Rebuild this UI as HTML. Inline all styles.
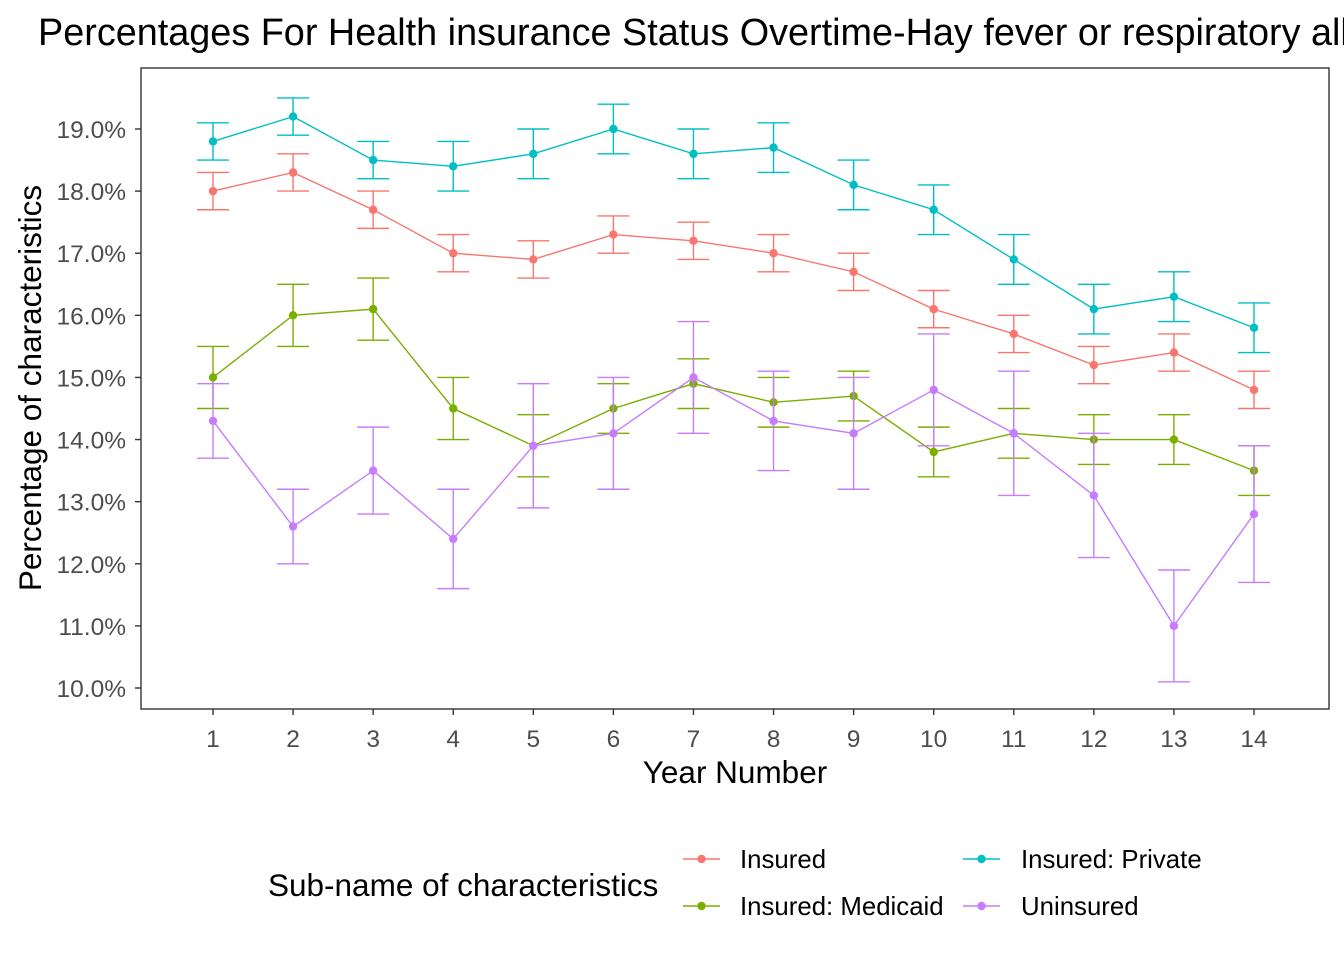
<!DOCTYPE html>
<html><head><meta charset="utf-8"><style>
body{margin:0;background:#fff;}
svg text{font-family:"Liberation Sans",Arial,sans-serif;}
</style></head><body>
<svg width="1344" height="960" viewBox="0 0 1344 960">
<rect width="1344" height="960" fill="#fff"/>
<text x="38" y="45" font-size="37.8" fill="#000">Percentages For Health insurance Status Overtime-Hay fever or respiratory allergy</text>
<rect x="141" y="68" width="1188" height="641" fill="none" stroke="#333" stroke-width="1.4"/>
<g id="yaxis"></g><g id="xaxis"></g><g id="series"></g>
<text x="735" y="783" font-size="31.5" text-anchor="middle">Year Number</text>
<text transform="translate(41,388) rotate(-90)" font-size="31.5" text-anchor="middle">Percentage of characteristics</text>
<text x="268" y="896" font-size="31.5">Sub-name of characteristics</text>
<g id="legend"></g>
</svg>
<script>
const years=[1,2,3,4,5,6,7,8,9,10,11,12,13,14];
const yTicks=[10,11,12,13,14,15,16,17,18,19];
const seriesNames=["Insured","Insured: Medicaid","Insured: Private","Uninsured"];
const seriesColors=["#F8766D","#7CAE00","#00BFC4","#C77CFF"];
const insured=[18.0,18.3,17.7,17.0,16.9,17.3,17.2,17.0,16.7,16.1,15.7,15.2,15.4,14.8];
const insuredLo=[17.7,18.0,17.4,16.7,16.6,17.0,16.9,16.7,16.4,15.8,15.4,14.9,15.1,14.5];
const insuredHi=[18.3,18.6,18.0,17.3,17.2,17.6,17.5,17.3,17.0,16.4,16.0,15.5,15.7,15.1];
const medicaid=[15.0,16.0,16.1,14.5,13.9,14.5,14.9,14.6,14.7,13.8,14.1,14.0,14.0,13.5];
const medicaidLo=[14.5,15.5,15.6,14.0,13.4,14.1,14.5,14.2,14.3,13.4,13.7,13.6,13.6,13.1];
const medicaidHi=[15.5,16.5,16.6,15.0,14.4,14.9,15.3,15.0,15.1,14.2,14.5,14.4,14.4,13.9];
const privateV=[18.8,19.2,18.5,18.4,18.6,19.0,18.6,18.7,18.1,17.7,16.9,16.1,16.3,15.8];
const privateLo=[18.5,18.9,18.2,18.0,18.2,18.6,18.2,18.3,17.7,17.3,16.5,15.7,15.9,15.4];
const privateHi=[19.1,19.5,18.8,18.8,19.0,19.4,19.0,19.1,18.5,18.1,17.3,16.5,16.7,16.2];
const uninsured=[14.3,12.6,13.5,12.4,13.9,14.1,15.0,14.3,14.1,14.8,14.1,13.1,11.0,12.8];
const uninsuredLo=[13.7,12.0,12.8,11.6,12.9,13.2,14.1,13.5,13.2,13.9,13.1,12.1,10.1,11.7];
const uninsuredHi=[14.9,13.2,14.2,13.2,14.9,15.0,15.9,15.1,15.0,15.7,15.1,14.1,11.9,13.9];
const NS="http://www.w3.org/2000/svg";
const xS=v=>213+(v-1)*(1254-213)/13;
const yS=v=>688-(v-10)*(688-129)/9;
function mk(tag,attrs,parent){const e=document.createElementNS(NS,tag);for(const k in attrs)e.setAttribute(k,attrs[k]);parent.appendChild(e);return e;}
const ya=document.getElementById('yaxis');
yTicks.forEach(t=>{
 const l=mk('line',{x1:135,x2:141,y1:yS(t),y2:yS(t),stroke:'#333','stroke-width':1.4},ya);
 
 
 const tx=mk('text',{x:126,y:yS(t)+9,'font-size':24.5,fill:'#4d4d4d','text-anchor':'end'},ya);
 tx.textContent=t.toFixed(1)+'%';
 
 
});
const xa=document.getElementById('xaxis');
years.forEach(t=>{
 const l=mk('line',{x1:xS(t),x2:xS(t),y1:709,y2:715,stroke:'#333','stroke-width':1.4},xa);
 
 
 const tx=mk('text',{x:xS(t),y:747,'font-size':24.5,fill:'#4d4d4d','text-anchor':'middle'},xa);
 tx.textContent=t;
 
 
});
const data=[[insured,insuredLo,insuredHi],[medicaid,medicaidLo,medicaidHi],[privateV,privateLo,privateHi],[uninsured,uninsuredLo,uninsuredHi]];
const sg=document.getElementById('series');
data.forEach((d,si)=>{
 const c=seriesColors[si];
 const g=mk('g',{},sg);
 
 
 years.forEach((yr,i)=>{
  const x=xS(yr),lo=yS(d[1][i]),hi=yS(d[2][i]);
  const eb=mk('path',{d:`M${x-16},${hi}H${x+16}M${x},${hi}V${lo}M${x-16},${lo}H${x+16}`,stroke:c,'stroke-width':1.4,fill:'none'},g);
  
  
 });
 const pl=mk('polyline',{points:years.map((yr,i)=>xS(yr)+','+yS(d[0][i])).join(' '),stroke:c,'stroke-width':1.4,fill:'none'},g);
 
 
 years.forEach((yr,i)=>{
  const p=mk('circle',{cx:xS(yr),cy:yS(d[0][i]),r:4.2,fill:c},g);
  
  
 });
});
const lg=document.getElementById('legend');
const lpos=[[683,859,740],[683,906,740],[963,859,1021],[963,906,1021]];
seriesNames.forEach((n,i)=>{
 const [kx,ky,tx]=lpos[i];
 const g=mk('g',{},lg);
 
 
 mk('line',{x1:kx,x2:kx+37,y1:ky,y2:ky,stroke:seriesColors[i],'stroke-width':1.4},g);
 mk('circle',{cx:kx+18.5,cy:ky,r:4.2,fill:seriesColors[i]},g);
 const t=mk('text',{x:tx,y:ky+9,'font-size':25.8},g);
 t.textContent=n;
});
</script>
</body></html>
